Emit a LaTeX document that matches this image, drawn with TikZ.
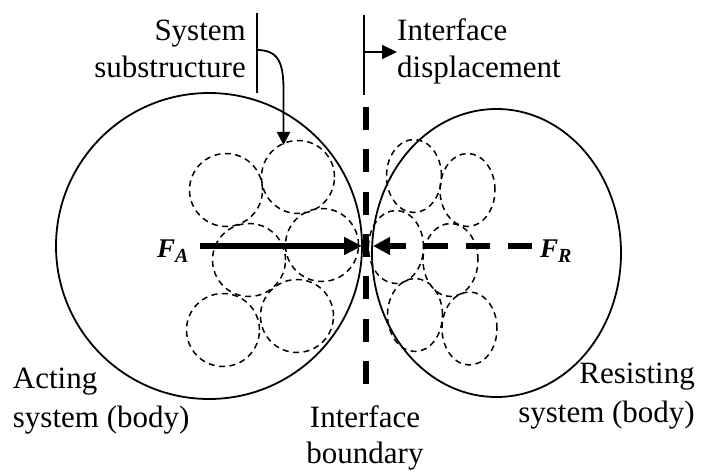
\documentclass[tikz,border=0pt]{standalone}
\usepackage{fontspec}
\setmainfont{Liberation Serif}
\usetikzlibrary{arrows.meta}
\tikzset{
  lbl/.style={inner sep=0pt, font=\fontsize{31}{37}\selectfont},
  flbl/.style={inner sep=0pt, font=\fontsize{27}{30}\selectfont\bfseries\itshape},
  body/.style={line width=1.8pt},
  sub/.style={line width=1.5pt, dash pattern=on 6pt off 4.5pt},
  thin/.style={line width=1.8pt},
}
\newcommand{\fsub}[1]{\raisebox{-5pt}{\fontsize{20}{20}\selectfont #1}}
\begin{document}
\begin{tikzpicture}[x=1pt,y=-1pt]
\useasboundingbox (0,0) rectangle (701,473);
% big bodies
\draw[body] (209,246) circle[radius=153pt];
\draw[body] (496.5,253) ellipse[x radius=124.5pt, y radius=144pt];
% left substructure circles
\foreach \p in {(226,190),(298,177),(249,260),(322,245),(223,330),(297,316)}
  \draw[sub] \p circle[radius=36.5pt];
% right substructure ellipses
\foreach \p in {(414,176),(467.5,190),(396,247),(450.5,260),(415,315),(469.5,328.5)}
  \draw[sub] \p ellipse[x radius=27.5pt, y radius=36.5pt];
% interface boundary
\coordinate (bt) at (366,107);
\coordinate (bb) at (366,383.5);
\draw[line width=6pt, dash pattern=on 23pt off 19.3pt] (bt) -- (bb);
% forces
\coordinate (fas) at (200,246);
\coordinate (fae) at (362,246);
\coordinate (frs) at (532,246);
\coordinate (fre) at (373,246);
\draw[line width=6pt, -{Triangle[length=18pt,width=17pt]}] (fas) -- (fae);
\draw[line width=6pt, dash pattern=on 24pt off 18pt, -{Triangle[length=17pt,width=17pt]}] (frs) -- (fre);
\node[flbl, anchor=base west] (FA) at (157,257) {F\fsub{A}};
\node[flbl, anchor=base west] (FR) at (540,257) {F\fsub{R}};
% leader lines
\coordinate (l1t) at (256.7,13);
\coordinate (l1b) at (256.7,93);
\draw[thin] (l1t) -- (l1b);
\coordinate (l2t) at (364,15);
\coordinate (l2b) at (364,95);
\draw[thin] (l2t) -- (l2b);
\coordinate (dA) at (364,52);
\coordinate (dB) at (397,52);
\draw[thin, -{Triangle[length=15pt,width=14pt]}] (dA) -- (dB);
\coordinate (cA) at (256.7,50);
\coordinate (cB) at (283.5,145);
\draw[thin, -{Triangle[length=13pt,width=13pt]}] (cA) .. controls (278,50) and (283.5,62) .. (283.5,90) -- (cB);
% labels
\node[lbl, anchor=base east] (s1) at (246,40.7) {System};
\node[lbl, anchor=base east] (s2) at (246,78) {substructure};
\node[lbl, anchor=base west] (i1) at (397,40.7) {Interface};
\node[lbl, anchor=base west] (i2) at (397,78) {displacement};
\node[lbl, anchor=base west] (a1) at (12.7,388) {Acting};
\node[lbl, anchor=base west] (a2) at (12.7,427) {system (body)};
\node[lbl, anchor=base east] (r1) at (695,383) {Resisting};
\node[lbl, anchor=base east] (r2) at (695,422) {system (body)};
\node[lbl, anchor=base] (b1) at (365,427) {Interface};
\node[lbl, anchor=base] (b2) at (365,463) {boundary};
\end{tikzpicture}
\end{document}
